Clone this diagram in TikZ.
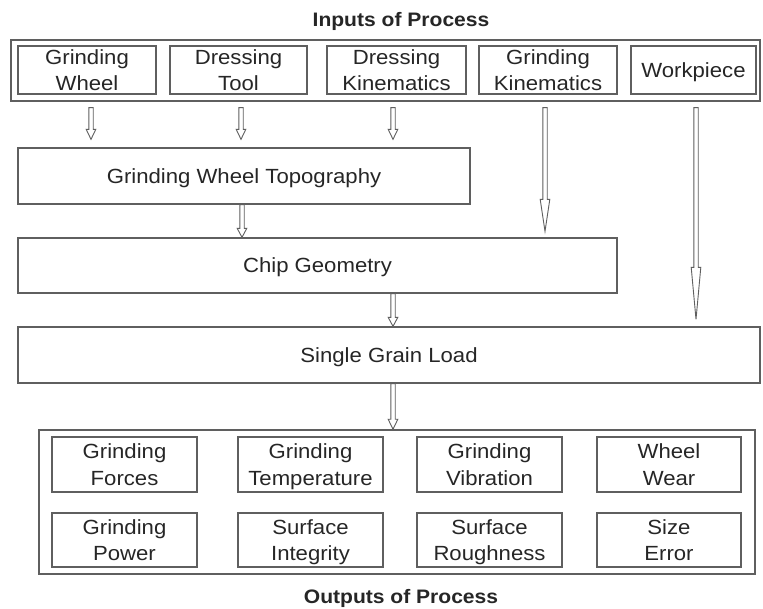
\documentclass[tikz,border=0pt]{standalone}
\usepackage{fontspec}
\setmainfont{Liberation Sans}[FakeStretch=1.08]
\usetikzlibrary{calc}
\definecolor{edge}{RGB}{95,95,95}
\tikzset{
  box/.style={draw=edge, line width=1.3pt, fill=white, inner sep=0pt, align=center,
    font=\fontsize{20.5}{26.5}\selectfont, text=black!85, text depth=0pt},
  frame/.style={draw=edge, line width=1.4pt, inner sep=0pt},
  ttl/.style={font=\fontsize{19.5}{22}\selectfont\bfseries, text=black!85},
  hollow/.style={draw=edge, line width=0.9pt, fill=white, line join=miter,
    to path={let \p1=(\tikztostart), \p2=(\tikztotarget) in
      (\x1-2.2pt,\y1) -- (\x1-2.2pt,\y2+#1) -- (\x1-4.8pt,\y2+#1) -- (\x1,\y2)
      -- (\x1+4.8pt,\y2+#1) -- (\x1+2.2pt,\y2+#1) -- (\x1+2.2pt,\y1) -- cycle}},
  hollow/.default=10pt
}
\begin{document}
\begin{tikzpicture}[x=1pt,y=1pt]
\useasboundingbox (0,0) rectangle (763,608);
\fill[white] (0,0) rectangle (763,608);

% titles
\node[ttl] (tin) at (401,587) {Inputs of Process};
\node[ttl] (tout) at (401,10) {Outputs of Process};

% input frame and boxes
\node[frame, minimum width=749pt, minimum height=61pt] (in) at (385.5,537.5) {};
\node[box, minimum width=138pt, minimum height=48pt] (gw) at (87,538) {Grinding\\Wheel};
\node[box, minimum width=137pt, minimum height=48pt] (dt) at (238.5,538) {Dressing\\Tool};
\node[box, minimum width=139pt, minimum height=48pt] (dk) at (396.5,538) {Dressing\\Kinematics};
\node[box, minimum width=138pt, minimum height=48pt] (gk) at (548,538) {Grinding\\Kinematics};
\node[box, minimum width=125pt, minimum height=48pt] (wp) at (693.5,538) {Workpiece};

% process boxes
\node[box, minimum width=452pt, minimum height=56pt] (wt) at (244,432) {Grinding Wheel Topography};
\node[box, minimum width=599pt, minimum height=55pt] (cg) at (317.5,342.5) {Chip Geometry};
\node[box, minimum width=742pt, minimum height=56pt] (sgl) at (389,253) {Single Grain Load};

% output frame and boxes
\node[frame, minimum width=716pt, minimum height=144pt] (out) at (397,106) {};
\node[box, minimum width=145pt, minimum height=55pt] (gf) at (124.5,143.5) {Grinding\\Forces};
\node[box, minimum width=145pt, minimum height=55pt] (gt) at (310.5,143.5) {Grinding\\Temperature};
\node[box, minimum width=145pt, minimum height=55pt] (gv) at (489.5,143.5) {Grinding\\Vibration};
\node[box, minimum width=144pt, minimum height=55pt] (ww) at (669,143.5) {Wheel\\Wear};
\node[box, minimum width=145pt, minimum height=54pt] (gp) at (124.5,68) {Grinding\\Power};
\node[box, minimum width=145pt, minimum height=54pt] (si) at (310.5,68) {Surface\\Integrity};
\node[box, minimum width=145pt, minimum height=54pt] (sr) at (489.5,68) {Surface\\Roughness};
\node[box, minimum width=144pt, minimum height=54pt] (se) at (669,68) {Size\\Error};

% arrow end points
\coordinate (a1s) at ([shift={(4pt,-6pt)}]gw.south |- in.south);
\coordinate (a1e) at ([shift={(4pt,8pt)}]gw.south |- wt.north);
\coordinate (a2s) at ([shift={(2.5pt,-6pt)}]dt.south |- in.south);
\coordinate (a2e) at ([shift={(2.5pt,8pt)}]dt.south |- wt.north);
\coordinate (a3s) at ([shift={(-3.5pt,-6pt)}]dk.south |- in.south);
\coordinate (a3e) at ([shift={(-3.5pt,8pt)}]dk.south |- wt.north);
\coordinate (a4s) at ([shift={(-3pt,-6pt)}]gk.south |- in.south);
\coordinate (a4e) at ([shift={(-3pt,6pt)}]gk.south |- cg.north);
\coordinate (a5s) at ([shift={(2.5pt,-6pt)}]wp.south |- in.south);
\coordinate (a5e) at ([shift={(2.5pt,7pt)}]wp.south |- sgl.north);
\coordinate (a6s) at ([xshift=-2pt]wt.south);
\coordinate (a6e) at ([xshift=-2pt]wt.south |- cg.north);
\coordinate (a7s) at (a3s |- cg.south);
\coordinate (a7e) at (a3s |- sgl.north);
\coordinate (a8s) at (a3s |- sgl.south);
\coordinate (a8e) at (a3s |- out.north);

\draw[hollow] (a1s) to (a1e);
\draw[hollow] (a2s) to (a2e);
\draw[hollow] (a3s) to (a3e);
\draw[hollow=32pt] (a4s) to (a4e);
\draw[hollow=52pt] (a5s) to (a5e);
\draw[hollow=9pt] (a6s) to (a6e);
\draw[hollow=9pt] (a7s) to (a7e);
\draw[hollow=10pt] (a8s) to (a8e);
\end{tikzpicture}
\end{document}
